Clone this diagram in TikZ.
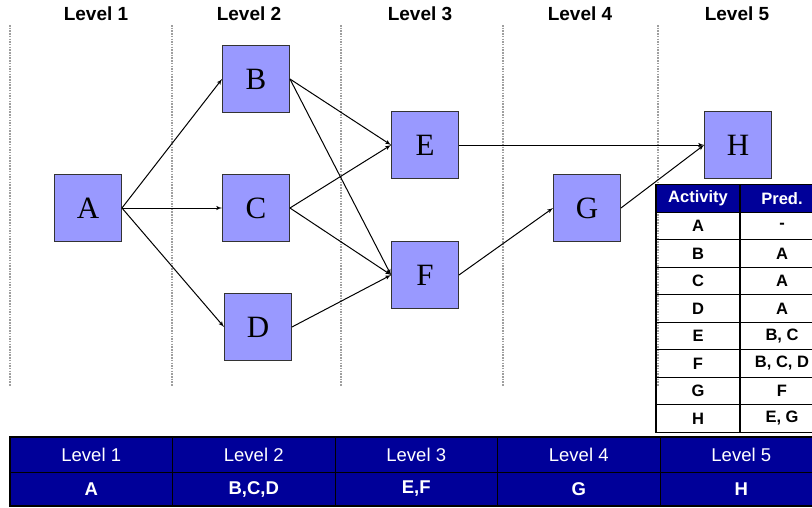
\documentclass[tikz,border=0pt]{standalone}
\usepackage{fontspec}
\setmainfont{Liberation Serif}
\setsansfont{Liberation Sans}
\usepackage{tikz}
\usetikzlibrary{arrows, positioning}

\definecolor{boxblue}{HTML}{9999FF}
\definecolor{navy}{HTML}{000099}

\tikzstyle{line} = [draw, -latex', line width=1pt]
\tikzstyle{activity} = [rectangle, draw=black!80, line width=0.9pt, fill=boxblue, minimum size=67pt, inner sep=0pt, font=\fontsize{31}{31}\selectfont]
\tikzstyle{divider} = [gray!75, line width=2.2pt, dash pattern=on 1.5pt off 1.2pt]
\tikzstyle{level} = [font=\sffamily\bfseries\fontsize{19}{19}\selectfont]
\tikzstyle{cell} = [draw, line width=1.3pt, minimum width=84pt, minimum height=27.5pt, inner sep=0pt, font=\sffamily\bfseries\fontsize{16.5}{16.5}\selectfont]
\tikzstyle{band} = [draw, line width=1pt, fill=navy, text=white, minimum width=162.5pt, inner sep=0pt, font=\sffamily\fontsize{18.5}{18.5}\selectfont]

\begin{document}
\begin{tikzpicture}[x=1pt, y=-1pt, >=latex']
        \clip (0,0) rectangle (812,507);
        \fill[white] (0,0) rectangle (812,507);

        % level columns
        \foreach \x in {10, 172, 341, 503, 658}
            \draw[divider] (\x,25) -- (\x,386);
        \node[level] (lev1) at (96,14) {Level 1};
        \node[level] (lev2) at (249,14) {Level 2};
        \node[level] (lev3) at (420,14) {Level 3};
        \node[level] (lev4) at (580,14) {Level 4};
        \node[level] (lev5) at (737,14) {Level 5};

        % activities
        \node [activity] (A) at (88,208) {A};
        \node [activity] (B) at (256,79) {B};
        \node [activity] (C) at (256,208) {C};
        \node [activity] (D) at (258,327) {D};
        \node [activity] (E) at (425,145) {E};
        \node [activity] (F) at (425,275) {F};
        \node [activity] (G) at (587,208) {G};
        \node [activity] (H) at (738,145) {H};

        \path [line] (A.east) -- (B.west);
        \path [line] (A.east) -- (C.west);
        \path [line] (A.east) -- (D.west);
        \path [line] (B.east) -- (E.west);
        \path [line] (B.east) -- (F.west);
        \path [line] (C.east) -- (E.west);
        \path [line] (C.east) -- (F.west);
        \path [line] (D.east) -- (F.west);
        \path [line] (E.east) -- (H.west);
        \path [line] (F.east) -- (G.west);
        \path [line] (G.east) -- (H.west);

        % predecessor table
        \node [cell, fill=navy, text=white] (acthead) at (698,198.5) {Activity};
        \node [cell, fill=navy, text=white] (predhead) at (782,198.5) {Pred.};
        \foreach \act/\pred [count=\i] in {A/-, B/A, C/A, D/A, E/{B, C}, F/{B, C, D}, G/F, H/{E, G}} {
            \node [cell] (act\i) at (698,198.5+27.5*\i) {\act};
            \node [cell] (pred\i) at (782,198.5+27.5*\i) {\pred};
        }

        % levels summary
        \foreach \lev/\acts [count=\i] in {1/A, 2/{B,C,D}, 3/{E,F}, 4/G, 5/H} {
            \node [band, minimum height=35pt] (band\i) at (-71.25+162.5*\i,454.5) {Level \lev};
            \node [band, minimum height=34pt, font=\sffamily\bfseries\fontsize{18.5}{18.5}\selectfont] (acts\i) at (-71.25+162.5*\i,489) {\acts};
        }
        \draw [line width=2pt] (10,437) rectangle (830,506);
    \end{tikzpicture}
\end{document}
